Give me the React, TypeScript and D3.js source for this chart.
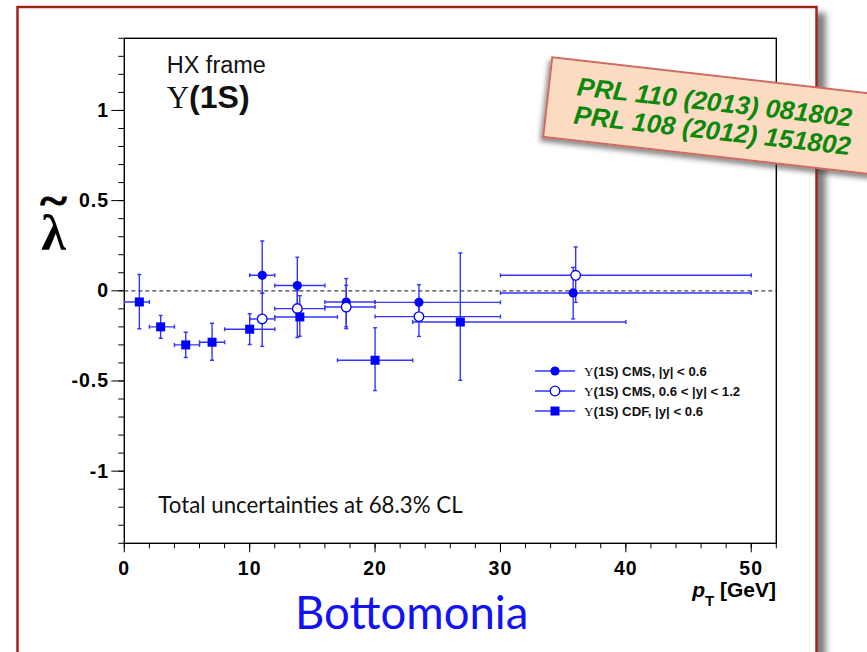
import React from 'react';
import * as d3 from 'd3';

// CDF, |y| < 0.6 (filled squares)
const cdfPt = [1.2, 2.9, 4.9, 7.0, 10.0, 14.0, 20.0, 26.8];
const cdfLo = [0, 2, 4, 6, 8, 12, 17, 23];
const cdfHi = [2, 4, 6, 8, 12, 17, 23, 40];
const cdfVal = [-0.062, -0.2, -0.3, -0.285, -0.213, -0.145, -0.385, -0.173];
const cdfUp = [0.152, 0.064, 0.07, 0.105, 0.086, 0.118, 0.18, 0.383];
const cdfDown = [0.148, 0.063, 0.07, 0.1, 0.085, 0.107, 0.168, 0.323];

// CMS, |y| < 0.6 (filled circles)
const cmsPt = [11.0, 13.8, 17.7, 23.5, 35.8];
const cmsLo = [10, 12, 16, 20, 30];
const cmsHi = [12, 16, 20, 30, 50];
const cmsVal = [0.086, 0.029, -0.062, -0.064, -0.012];
const cmsUp = [0.19, 0.157, 0.13, 0.098, 0.142];
const cmsDown = [0.1, 0.1, 0.138, 0.1, 0.144];

// CMS, 0.6 < |y| < 1.2 (open circles)
const cmsFwdPt = [11.0, 13.8, 17.7, 23.5, 36.0];
const cmsFwdLo = [10, 12, 16, 20, 30];
const cmsFwdHi = [12, 16, 20, 30, 50];
const cmsFwdVal = [-0.156, -0.099, -0.09, -0.143, 0.086];
const cmsFwdUp = [0.144, 0.1, 0.12, 0.1, 0.157];
const cmsFwdDown = [0.152, 0.16, 0.12, 0.11, 0.15];

const xMajor = [0, 10, 20, 30, 40, 50];
const yMajor = [-1, -0.5, 0, 0.5, 1];
const yTickLabels = ['-1', '-0.5', '0', '0.5', '1'];

const legendLabels = ['(1S) CMS, |y| < 0.6', '(1S) CMS,  0.6 < |y| < 1.2', '(1S) CDF, |y| < 0.6'];
const refLines = ['PRL 110 (2013) 081802', 'PRL 108 (2012) 151802'];

const W = 867;
const H = 652;
const plot = { left: 124.3, right: 776.3, top: 38.3, bottom: 543.3 };

const x = d3.scaleLinear().domain([0, 52]).range([plot.left, plot.right]);
const y = d3.scaleLinear().domain([-1.4, 1.4]).range([plot.bottom, plot.top]);

const xMinor = d3.range(0, 53, 2);
const yMinor = d3.range(-14, 15).map((i) => i / 10);

const SANS = '"Liberation Sans", Arial, sans-serif';
const SERIF = '"Liberation Serif", "Times New Roman", serif';
const BLUE = '#0000ff';
const BAR = '#3535ff';

type Pt = { pt: number; lo: number; hi: number; v: number; up: number; dn: number };

const zip = (pt: number[], lo: number[], hi: number[], v: number[], up: number[], dn: number[]): Pt[] =>
  pt.map((p, i) => ({ pt: p, lo: lo[i], hi: hi[i], v: v[i], up: up[i], dn: dn[i] }));

const ErrorBars = ({ d }: { d: Pt }) => {
  const cy = y(d.v);
  const cx = x(d.pt);
  const c = 2;
  return (
    <g stroke={BAR} strokeWidth={1.4} fill="none">
      <line x1={x(d.lo)} x2={x(d.hi)} y1={cy} y2={cy} />
      <line x1={x(d.lo)} x2={x(d.lo)} y1={cy - c} y2={cy + c} />
      <line x1={x(d.hi)} x2={x(d.hi)} y1={cy - c} y2={cy + c} />
      <line x1={cx} x2={cx} y1={y(d.v + d.up)} y2={y(d.v - d.dn)} />
      <line x1={cx - c} x2={cx + c} y1={y(d.v + d.up)} y2={y(d.v + d.up)} />
      <line x1={cx - c} x2={cx + c} y1={y(d.v - d.dn)} y2={y(d.v - d.dn)} />
    </g>
  );
};

const Marker = ({ kind, cx, cy }: { kind: string; cx: number; cy: number }) => {
  if (kind === 'square') return <rect x={cx - 4.5} y={cy - 4.5} width={9} height={9} fill={BLUE} />;
  if (kind === 'open') return <circle cx={cx} cy={cy} r={4.8} fill="#fff" stroke={BLUE} strokeWidth={1.3} />;
  return <circle cx={cx} cy={cy} r={4.6} fill={BLUE} />;
};

export default function App() {
  const cdf = zip(cdfPt, cdfLo, cdfHi, cdfVal, cdfUp, cdfDown);
  const cms = zip(cmsPt, cmsLo, cmsHi, cmsVal, cmsUp, cmsDown);
  const fwd = zip(cmsFwdPt, cmsFwdLo, cmsFwdHi, cmsFwdVal, cmsFwdUp, cmsFwdDown);
  const series = [
    { data: cms, kind: 'filled' },
    { data: fwd, kind: 'open' },
    { data: cdf, kind: 'square' },
  ];

  return (
    <svg width={W} height={H} style={{ position: 'absolute', left: 0, top: 0, background: '#fff' }}>
      <defs>
        <filter id="frameShadow" x="-5%" y="-5%" width="115%" height="115%">
          <feDropShadow dx={8} dy={7} stdDeviation={3} floodColor="#555" floodOpacity={0.75} />
        </filter>
        <filter id="noteShadow" x="-10%" y="-20%" width="130%" height="160%">
          <feDropShadow dx={-2} dy={4} stdDeviation={2.5} floodColor="#333" floodOpacity={0.55} />
        </filter>
        <clipPath id="plotClip">
          <rect x={plot.left} y={plot.top} width={plot.right - plot.left} height={plot.bottom - plot.top} />
        </clipPath>
      </defs>

      {/* slide frame */}
      <rect x={17.5} y={7} width={799} height={680} fill="#fff" stroke="#a3231b" strokeWidth={2.5} filter="url(#frameShadow)" />

      {/* plot box */}
      <rect x={plot.left} y={plot.top} width={plot.right - plot.left} height={plot.bottom - plot.top} fill="none" stroke="#000" strokeWidth={1.4} />

      {/* y ticks */}
      {yMinor.map((t) => (
        <line key={'ym' + t} x1={plot.left - 6} x2={plot.left} y1={y(t)} y2={y(t)} stroke="#000" strokeWidth={1} />
      ))}
      {yMajor.map((t, i) => (
        <g key={'yM' + t}>
          <line x1={plot.left - 13} x2={plot.left} y1={y(t)} y2={y(t)} stroke="#000" strokeWidth={1} />
          <text x={109} y={y(t) + 6.5} textAnchor="end" fontFamily={SANS} fontWeight="bold" fontSize={19.5} letterSpacing={1}>
            {yTickLabels[i]}
          </text>
        </g>
      ))}

      {/* x ticks */}
      {xMinor.map((t) => (
        <line key={'xm' + t} x1={x(t)} x2={x(t)} y1={plot.bottom} y2={plot.bottom + 5} stroke="#000" strokeWidth={1} />
      ))}
      {xMajor.map((t) => (
        <g key={'xM' + t}>
          <line x1={x(t)} x2={x(t)} y1={plot.bottom} y2={plot.bottom + 9} stroke="#000" strokeWidth={1} />
          <text x={x(t)} y={574.5} textAnchor="middle" fontFamily={SANS} fontWeight="bold" fontSize={19.5} letterSpacing={1}>
            {t}
          </text>
        </g>
      ))}

      {/* axis titles */}
      <text x={776} y={596.5} textAnchor="end" fontFamily={SANS} fontWeight="bold" fontSize={21}>
        <tspan fontStyle="italic">p</tspan>
        <tspan fontSize={15} dy={9}>T</tspan>
        <tspan dy={-9}> [GeV]</tspan>
      </text>
      <text x={53.5} y={250} textAnchor="middle" fontFamily={SERIF} fontWeight="bold" fontSize={50}>λ</text>
      <text x={0} y={0} textAnchor="middle" fontFamily={SERIF} fontWeight="bold" fontSize={30}
        stroke="#000" strokeWidth={0.6} transform="translate(53.5,215) scale(1.7,1.5)">~</text>

      {/* zero line */}
      <line x1={plot.left} x2={plot.right} y1={y(0)} y2={y(0)} stroke="#444" strokeWidth={1.2} strokeDasharray="4,3" />

      {/* data */}
      <g clipPath="url(#plotClip)">
        {series.map((s) => s.data.map((d, i) => <ErrorBars key={s.kind + 'e' + i} d={d} />))}
        {series.map((s) => s.data.map((d, i) => <Marker key={s.kind + 'm' + i} kind={s.kind} cx={x(d.pt)} cy={y(d.v)} />))}
      </g>

      {/* labels inside plot */}
      <text x={166.7} y={72.7} fontFamily={SANS} fontSize={23.5} fill="#111">HX frame</text>
      <text x={166.7} y={108.3} fill="#111">
        <tspan fontFamily={SERIF} fontSize={31}>Υ</tspan>
        <tspan fontFamily={SANS} fontWeight="bold" fontSize={32}>(1S)</tspan>
      </text>
      <text x={158.3} y={512.7} fontFamily="Lato, sans-serif" fontSize={22.3} fill="#111">Total uncertainties at 68.3% CL</text>

      {/* legend */}
      {legendLabels.map((lab, i) => {
        const ly = 371 + i * 20;
        const kind = series[i].kind;
        return (
          <g key={'lg' + i}>
            <line x1={535} x2={575} y1={ly} y2={ly} stroke={BAR} strokeWidth={1.4} />
            <Marker kind={kind} cx={555} cy={ly} />
            <text x={584} y={ly + 4.6} fontSize={13.2} fill="#111">
              <tspan fontFamily={SERIF}>Υ</tspan>
              <tspan fontFamily={SANS} fontWeight="bold">{lab}</tspan>
            </text>
          </g>
        );
      })}

      {/* reference sticky note */}
      <g transform="translate(552.3,57.3) rotate(6.5)">
        <rect x={0} y={0} width={350} height={80} fill="#fbdcc3" stroke="#cf6a5f" strokeWidth={2} filter="url(#noteShadow)" />
        {refLines.map((t, i) => (
          <text key={t} x={28} y={35 + i * 28.5} fontFamily={SANS} fontWeight="bold" fontStyle="italic" fontSize={26} fill="#0d880d">
            {t}
          </text>
        ))}
      </g>

      <text x={295} y={629} fontFamily="Lato, sans-serif" fontSize={45.5} fill="#1212f5">Bottomonia</text>
    </svg>
  );
}
